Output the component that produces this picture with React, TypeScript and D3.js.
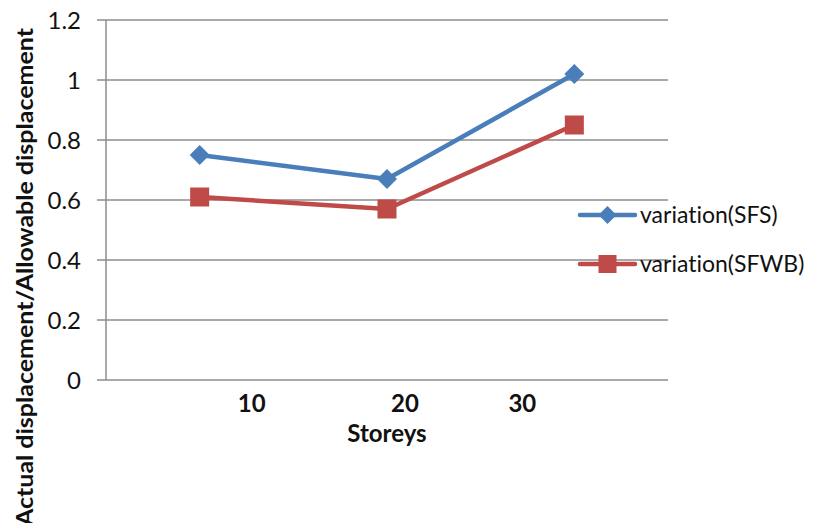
import React from "react";
import * as d3 from "d3";

// Storey categories and the displacement ratio for each structural system
const storeys = ["10", "20", "30"];
const sfsValues = [0.75, 0.67, 1.02];
const sfwbValues = [0.61, 0.57, 0.85];
const seriesNames = ["variation(SFS)", "variation(SFWB)"];
const yTicks = [0, 0.2, 0.4, 0.6, 0.8, 1, 1.2];

// Layout
const W = 818;
const H = 531;
const plot = { left: 106, right: 668, top: 20, bottom: 380 };
// horizontal nudges of the category labels relative to their band centres
const labelNudge = [52, 18, -52];

const BLUE = "#4A7EBB";
const RED = "#BE4B48";
const GRID = "#8C8C8C";
const FONT = "Lato, 'Open Sans', sans-serif";
const textStyle = { fontVariantLigatures: "none" as const };

export default function App() {
  const x = d3
    .scaleBand<string>()
    .domain(storeys)
    .range([plot.left, plot.right])
    .paddingInner(0)
    .paddingOuter(0);
  const y = d3.scaleLinear().domain([0, 1.2]).range([plot.bottom, plot.top]);
  const cx = (c: string) => (x(c) as number) + x.bandwidth() / 2;

  const line = d3
    .line<number>()
    .x((_, i) => cx(storeys[i]))
    .y((v) => y(v));

  const diamond = (px: number, py: number, r: number) =>
    `M${px},${py - r}L${px + r},${py}L${px},${py + r}L${px - r},${py}Z`;

  return (
    <div style={{ margin: -8 }}>
      <svg width={W} height={H} style={{ display: "block", background: "#fff" }}>
        {/* gridlines and y ticks */}
        {yTicks.map((t) => (
          <g key={t}>
            <line
              x1={plot.left - 9}
              x2={plot.right}
              y1={y(t)}
              y2={y(t)}
              stroke={GRID}
              strokeWidth={1.5}
            />
            <text
              x={81}
              y={y(t)}
              dy="0.36em"
              textAnchor="end"
              fontFamily={FONT}
              fontSize={24}
              fill="#111"
            >
              {t}
            </text>
          </g>
        ))}
        {/* y axis */}
        <line
          x1={plot.left}
          x2={plot.left}
          y1={plot.top}
          y2={plot.bottom}
          stroke={GRID}
          strokeWidth={1.5}
        />

        {/* category labels */}
        {storeys.map((s, i) => (
          <text
            key={s}
            x={cx(s) + labelNudge[i]}
            y={412}
            textAnchor="middle"
            fontFamily={FONT}
            fontWeight="bold"
            fontSize={24}
            fill="#111"
          >
            {s}
          </text>
        ))}
        <text
          x={(plot.left + plot.right) / 2}
          y={442}
          textAnchor="middle"
          fontFamily={FONT}
          fontWeight="bold"
          fontSize={24}
          fill="#111"
        >
          Storeys
        </text>
        <text
          transform={`translate(33, 277) rotate(-90)`}
          textAnchor="middle"
          fontFamily={FONT}
          fontWeight="bold"
          fontSize={23}
          textLength={498}
          lengthAdjust="spacingAndGlyphs"
          fill="#111"
        >
          Actual displacement/Allowable displacement
        </text>

        {/* SFS series */}
        <path d={line(sfsValues) || ""} fill="none" stroke={BLUE} strokeWidth={4.5} strokeLinejoin="round" />
        {sfsValues.map((v, i) => (
          <path key={i} d={diamond(cx(storeys[i]), y(v), 10)} fill={BLUE} />
        ))}

        {/* SFWB series */}
        <path d={line(sfwbValues) || ""} fill="none" stroke={RED} strokeWidth={4.5} strokeLinejoin="round" />
        {sfwbValues.map((v, i) => (
          <rect key={i} x={cx(storeys[i]) - 9.5} y={y(v) - 9.5} width={19} height={19} fill={RED} />
        ))}

        {/* legend */}
        <g>
          <line x1={580} x2={635} y1={215} y2={215} stroke={BLUE} strokeWidth={4.5} strokeLinecap="round" />
          <path d={diamond(607.5, 215, 9)} fill={BLUE} />
          <text x={640} y={215} dy="0.35em" fontFamily={FONT} fontSize={23} fill="#111" style={textStyle}>
            {seriesNames[0]}
          </text>
          <line x1={580} x2={635} y1={264} y2={264} stroke={RED} strokeWidth={4.5} strokeLinecap="round" />
          <rect x={598.5} y={255} width={18} height={18} fill={RED} />
          <text x={640} y={264} dy="0.35em" fontFamily={FONT} fontSize={23} fill="#111" style={textStyle}>
            {seriesNames[1]}
          </text>
        </g>
      </svg>
    </div>
  );
}
